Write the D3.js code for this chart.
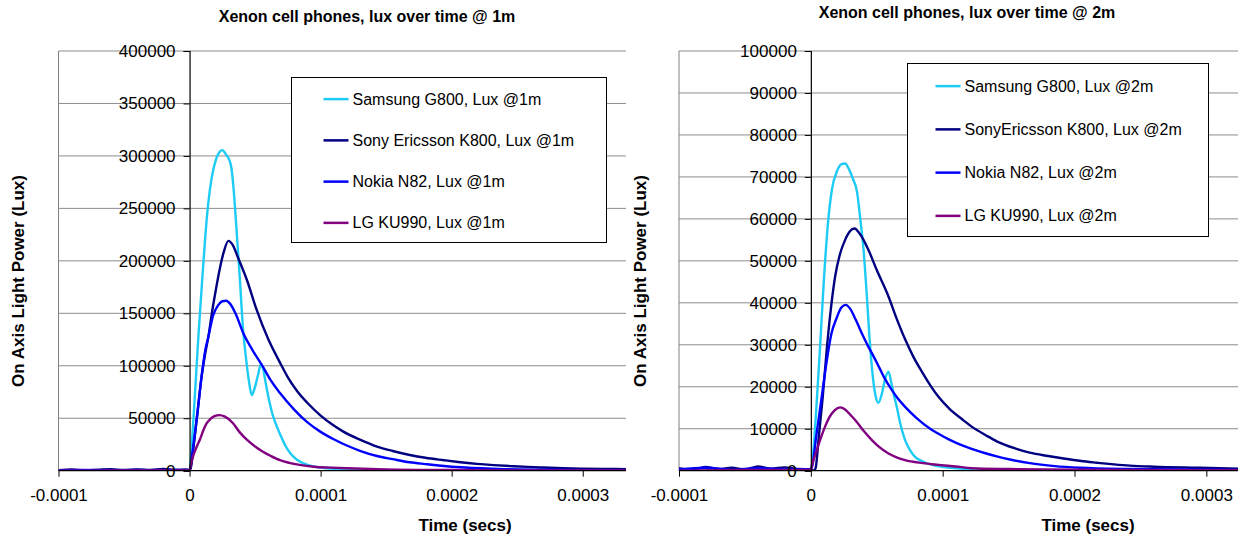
<!DOCTYPE html>
<html>
<head>
<meta charset="utf-8">
<script src="https://cdn.jsdelivr.net/npm/d3@7"></script>
<style>
  body { margin: 0; background: #fff; }
  svg { display: block; font-family: "Liberation Sans", Arial, sans-serif; }
</style>
</head>
<body>
<div id="chart"></div>
<script>
// time in microseconds, lux values
var samsung1m = [[-100,0],[-60,0],[-20,0],[-2,200],[0,500],[1,12000],[3,50000],[6.7,127000],[9,170000],[11.8,220000],[14,252000],[17,280000],[20,296000],[23,304000],[25,305500],[28,301000],[30,297000],[32,288000],[33.5,270000],[35,245000],[38,190000],[41,132000],[43,108000],[45,88000],[47.5,72000],[49,76000],[52,90000],[54.5,101500],[56,98000],[58,84000],[60.2,70000],[63,55000],[66,44000],[69,35000],[73,24000],[77,16500],[82,10500],[87,7000],[95,4000],[105,2200],[120,1200],[140,600],[170,300],[220,100],[333,0]];
var sony1m = [[-100,500],[-90,1200],[-80,300],[-70,900],[-60,1500],[-50,600],[-40,1300],[-30,800],[-20,1600],[-10,900],[-3,1200],[0,800],[1,3000],[3,22000],[6,55000],[9,88000],[12,112000],[14.4,128000],[17,150000],[20,172000],[23.3,194000],[26,208000],[29.6,219000],[33,215000],[37,203000],[43.7,182000],[51,154000],[60,125500],[69,103000],[75,89000],[82,76000],[90,64500],[100,52500],[110,43000],[117,37500],[130,29600],[143,23000],[155,18800],[168,15000],[180,12300],[194,10000],[205,8300],[219,6500],[232,5300],[245,4400],[258,3600],[270,3000],[285,2400],[300,2000],[315,1700],[333,1500]];
var nokia1m = [[-100,200],[-80,600],[-60,300],[-40,700],[-20,400],[0,500],[3,25000],[6,55000],[9,88000],[12,115000],[14.4,128000],[18,148000],[22,158000],[25,161500],[28,162000],[31,159000],[35,150000],[41,131000],[48,115000],[56,99000],[62,86000],[69,74000],[80,58000],[90,46000],[100,37000],[110,30000],[120,24000],[130,19000],[143,14000],[155,11000],[168,8000],[180,6300],[190,5000],[210,3000],[240,1500],[270,900],[300,500],[333,300]];
var lg1m = [[-100,0],[-50,200],[0,300],[1,6000],[3,15000],[5.5,23000],[8,30000],[11,40000],[13,45000],[16,49500],[19,52000],[22.8,53000],[27,51500],[33,45500],[38,37000],[43.7,29500],[50,23000],[56,18000],[62,14000],[69,10000],[76,7500],[84,5500],[95,3800],[108,2900],[120,2300],[150,1300],[200,600],[250,300],[333,200]];

var samsung2m = [[-100,0],[-20,0],[0,300],[2,5000],[4,14000],[7,29500],[10,46000],[13,59000],[16,67000],[20,71500],[23,73000],[26,73200],[29,71800],[32,69500],[35,66500],[37.5,60000],[40,52600],[42.5,41500],[45,29500],[47,22500],[49,18000],[51.3,16200],[54,18500],[56.5,22000],[58.9,23600],[61,21000],[63,18000],[65.2,15200],[68,11000],[71.5,7300],[75,5000],[79,3300],[85,2200],[92,1400],[100,900],[120,400],[150,200],[200,100],[324,0]];
var sony2m = [[-100,600],[-90,200],[-80,900],[-70,400],[-60,700],[-50,300],[-40,1000],[-30,500],[-20,800],[-10,400],[0,300],[2,0],[3.5,500],[6,8000],[9,17500],[12.1,29000],[15,38000],[18.4,46200],[22,51500],[26,55000],[29.5,57000],[33.1,57700],[37,56500],[43.7,52600],[50,47800],[58.9,41500],[65,36300],[71.5,31300],[78,27000],[84.2,23600],[90.5,20400],[96.8,17600],[105,14800],[115.8,12000],[122,10500],[133,8400],[141,7000],[155,5300],[166,4300],[180,3500],[191.7,2900],[205,2300],[217,1900],[230,1500],[242,1200],[260,950],[293,700],[324,500]];
var nokia2m = [[-100,300],[-80,700],[-60,200],[-40,600],[-20,300],[0,400],[1,1000],[4,8000],[8,17000],[12,26000],[15.5,32500],[19.7,36500],[23,38800],[26.6,39500],[30,38500],[34,36000],[39,32500],[43.7,29500],[46.3,28000],[52,24500],[56,22000],[61.5,19200],[66,17200],[71.5,15200],[80,12600],[90.5,10000],[96.8,8800],[105,7400],[115.8,5900],[122,5200],[133,4100],[141,3400],[152,2600],[166,1800],[185,1100],[204,700],[240,400],[280,300],[324,200]];
var lg2m = [[-100,0],[-50,200],[0,200],[1,1500],[4.5,4900],[8,8200],[10.8,10500],[14,12700],[18,14400],[22.2,15100],[26,14600],[30,13300],[33.6,12100],[40,9500],[46.3,7300],[52,5600],[58.9,4100],[65,3200],[71.5,2500],[85,1800],[96.8,1400],[110,1000],[122,600],[150,400],[200,250],[324,100]];

var xTicks = [-100, 0, 100, 200, 300];
var yTicks1m = [0, 50000, 100000, 150000, 200000, 250000, 300000, 350000, 400000];
var yTicks2m = [0, 10000, 20000, 30000, 40000, 50000, 60000, 70000, 80000, 90000, 100000];

var colors = ["#1ECBF5", "#000080", "#0000FF", "#800080"];
var names1m = ["Samsung G800, Lux @1m", "Sony Ericsson K800, Lux @1m", "Nokia N82, Lux @1m", "LG KU990, Lux @1m"];
var names2m = ["Samsung G800, Lux @2m", "SonyEricsson K800, Lux @2m", "Nokia N82, Lux @2m", "LG KU990, Lux @2m"];

var svg = d3.select("#chart").append("svg")
    .attr("width", 1244)
    .attr("height", 539);

function panel(cfg) {
    var x = d3.scaleLinear().domain([-100, cfg.xMax]).range([cfg.left, cfg.right]);
    var y = d3.scaleLinear().domain([0, d3.max(cfg.yTicks)]).range([cfg.bottom, cfg.top]);

    var g = svg.append("g");

    // plot area left border + gridlines
    g.append("line")
        .attr("x1", cfg.left).attr("x2", cfg.left)
        .attr("y1", cfg.top).attr("y2", cfg.bottom)
        .attr("stroke", "#808080");

    g.selectAll(".grid").data(cfg.yTicks.filter(d => d > 0)).enter()
        .append("line")
        .attr("x1", cfg.left).attr("x2", cfg.right)
        .attr("y1", d => y(d)).attr("y2", d => y(d))
        .attr("stroke", "#8c8c8c");

    // lines
    var clipId = "clip" + cfg.id;
    svg.append("clipPath").attr("id", clipId)
        .append("rect")
        .attr("x", cfg.left).attr("y", cfg.top - 2)
        .attr("width", cfg.right - cfg.left).attr("height", cfg.bottom - cfg.top + 2);

    var line = d3.line()
        .x(d => x(d[0]))
        .y(d => y(d[1]))
        .curve(d3.curveMonotoneX);

    g.append("g").attr("clip-path", "url(#" + clipId + ")")
        .selectAll("path").data(cfg.series).enter()
        .append("path")
        .attr("d", line)
        .attr("fill", "none")
        .attr("stroke", (d, i) => colors[i])
        .attr("stroke-width", 2.4)
        .attr("stroke-linejoin", "round");

    // axes
    var xAxis = g.append("g")
        .attr("transform", `translate(0,${y(0)})`)
        .call(d3.axisBottom(x).tickValues(xTicks).tickSize(6).tickPadding(12)
            .tickFormat(d => d === 0 ? "0" : (d / 1e6).toFixed(4)));

    var yAxis = g.append("g")
        .attr("transform", `translate(${x(0)},0)`)
        .call(d3.axisLeft(y).tickValues(cfg.yTicks).tickSize(6).tickPadding(8)
            .tickFormat(d3.format("d")));

    [xAxis, yAxis].forEach(a => {
        a.select(".domain").attr("stroke", "#000").attr("stroke-width", 1.2);
        a.selectAll(".tick line").attr("stroke", "#000");
        a.selectAll("text").attr("font-size", 17).attr("fill", "#000")
            .attr("font-family", "Liberation Sans, Arial, sans-serif");
    });
    xAxis.select(".domain").attr("d", `M${cfg.left},0H${cfg.right}`);

    // titles
    g.append("text")
        .attr("x", cfg.titleX).attr("y", cfg.titleY)
        .attr("text-anchor", "middle")
        .attr("font-size", 16).attr("font-weight", "bold")
        .text(cfg.title);

    g.append("text")
        .attr("x", cfg.xLabelX).attr("y", 531)
        .attr("text-anchor", "middle")
        .attr("font-size", 17).attr("font-weight", "bold")
        .text("Time (secs)");

    g.append("text")
        .attr("transform", `translate(${cfg.yLabelX + 6},281) rotate(-90)`)
        .attr("text-anchor", "middle")
        .attr("font-size", 17).attr("font-weight", "bold")
        .text("On Axis Light Power (Lux)");

    // legend
    var lg = cfg.legend;
    var leg = g.append("g");
    leg.append("rect")
        .attr("x", lg.x).attr("y", lg.y)
        .attr("width", lg.w).attr("height", lg.h)
        .attr("fill", "#fff").attr("stroke", "#000");

    var rows = leg.selectAll(".row").data(cfg.names).enter()
        .append("g")
        .attr("transform", (d, i) => `translate(${lg.x},${lg.y + lg.h / 8 + i * lg.h / 4 + 1})`);

    rows.append("line")
        .attr("x1", lg.lineX).attr("x2", lg.lineX + 25)
        .attr("stroke", (d, i) => colors[i])
        .attr("stroke-width", 2.5);

    rows.append("text")
        .attr("x", lg.lineX + 29).attr("dy", "0.35em")
        .attr("font-size", 16)
        .text(d => d);
}

panel({
    id: 1, left: 58.5, right: 626, top: 51, bottom: 470.7, xMax: 333,
    yTicks: yTicks1m,
    series: [samsung1m, sony1m, nokia1m, lg1m],
    names: names1m,
    title: "Xenon cell phones, lux over time @ 1m", titleX: 367, titleY: 21.5,
    xLabelX: 465, yLabelX: 17.5,
    legend: {x: 291.5, y: 77.5, w: 315, h: 165, lineX: 32}
});

panel({
    id: 2, left: 679, right: 1238, top: 51, bottom: 470.7, xMax: 324,
    yTicks: yTicks2m,
    series: [samsung2m, sony2m, nokia2m, lg2m],
    names: names2m,
    title: "Xenon cell phones, lux over time @ 2m", titleX: 967, titleY: 18.3,
    xLabelX: 1088, yLabelX: 640,
    legend: {x: 907.5, y: 63.5, w: 301, h: 173, lineX: 28}
});
</script>
</body>
</html>
